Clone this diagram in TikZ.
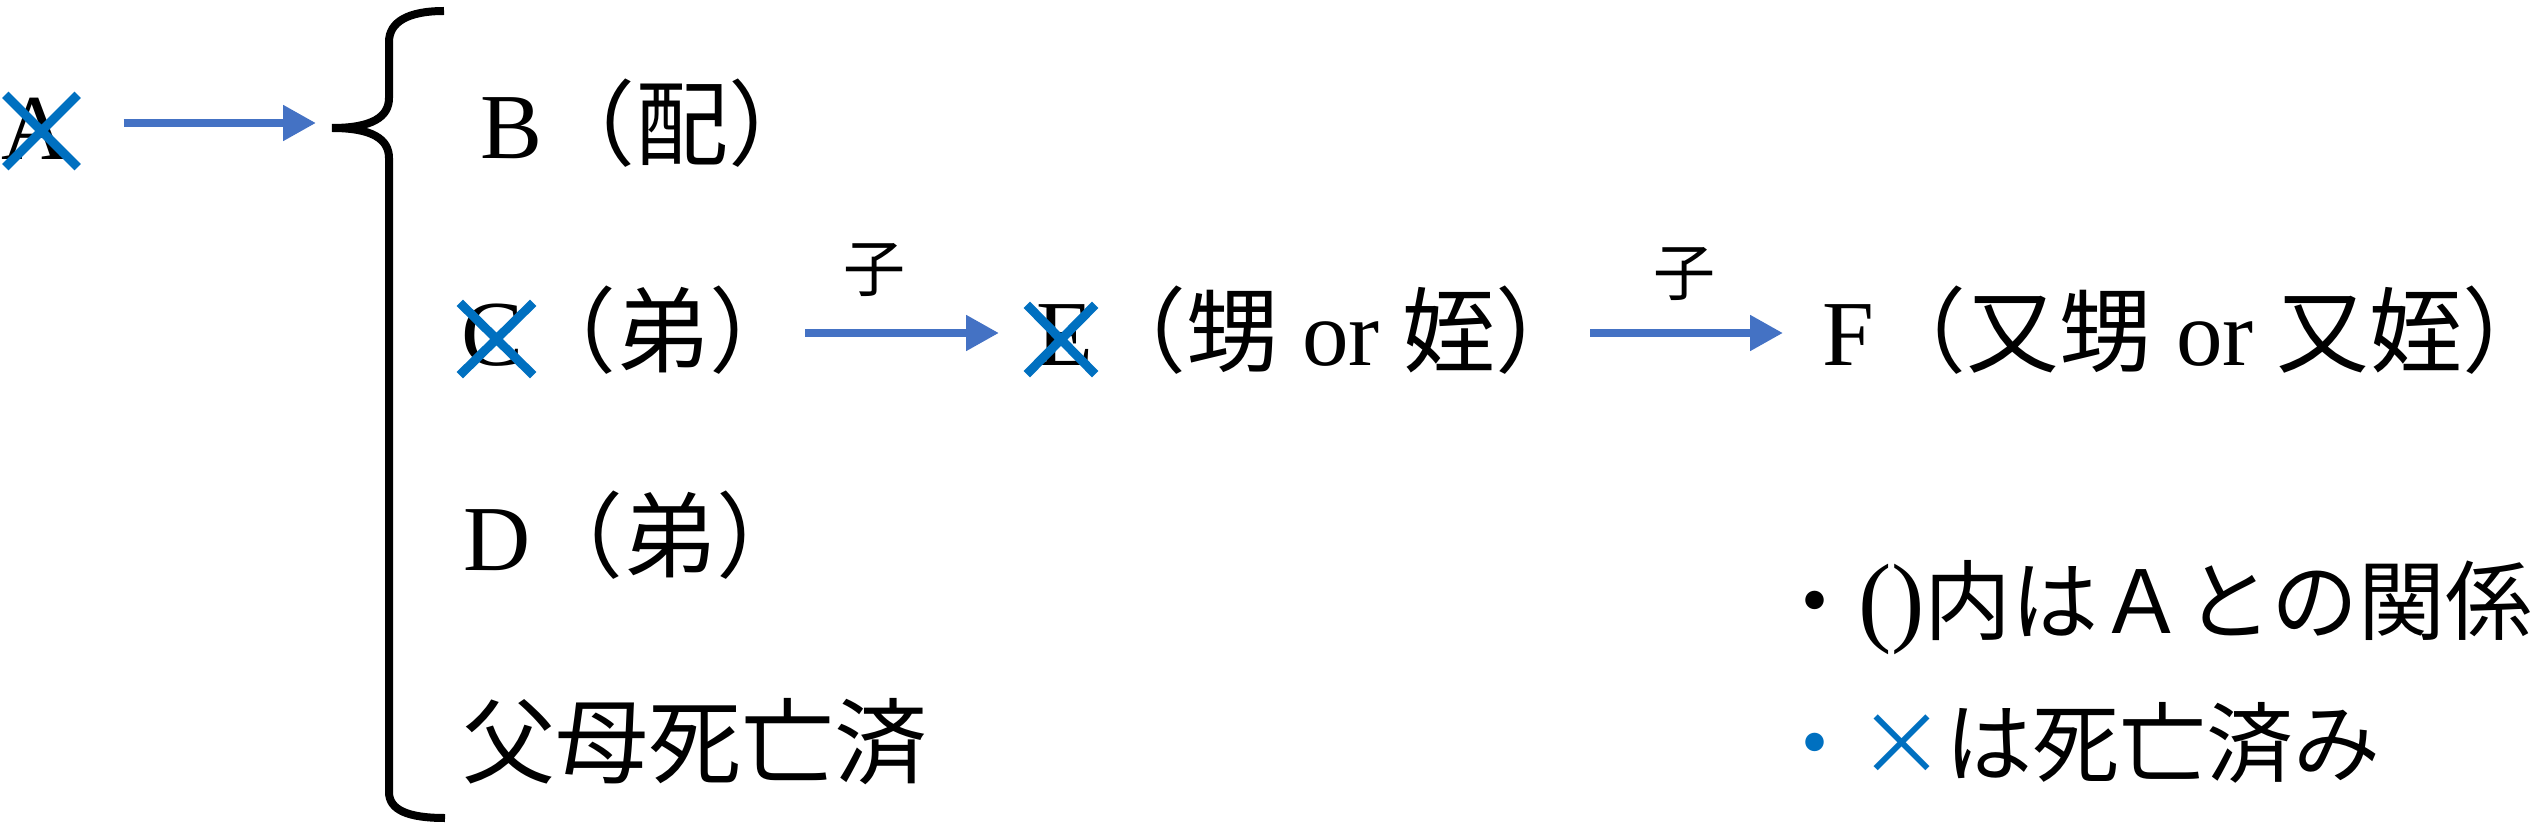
\documentclass[tikz,border=0pt]{standalone}
\usepackage{fontspec}
\setmainfont{Liberation Serif}
\newfontfamily\jp{Noto Sans CJK JP}
\usetikzlibrary{arrows.meta}
\definecolor{arrowblue}{HTML}{4472C4}
\definecolor{deadblue}{HTML}{0070C0}
\begin{document}
\begin{tikzpicture}[x=1pt,y=-1pt,
  txt/.style={inner sep=0pt, anchor=base west, font=\fontsize{93pt}{110pt}\selectfont},
  lbl/.style={inner sep=0pt, font=\jp\fontsize{62pt}{70pt}\selectfont},
  leg/.style={inner sep=0pt, anchor=base west, font=\fontsize{87pt}{100pt}\selectfont},
  arr/.style={draw=arrowblue, line width=8pt, -{Triangle[length=33pt,width=34pt]}},
  xcross/.style={minimum width=72pt, minimum height=72pt, inner sep=0pt},
  xline/.style={draw=deadblue, line width=9pt},
  bracestroke/.style={draw=black, line width=8pt}]
\useasboundingbox (0,0) rectangle (2541,834);
% left person
\node[txt] (A) at (1,160) {A};
\node[xcross] (xA) at (41.5,131) {};
\draw[xline] (xA.north west) -- (xA.south east) (xA.north east) -- (xA.south west);
% brace
\coordinate (tip) at (332,123);
\draw[bracestroke] (444,11) .. controls (408,11) and (389,22) .. (389,42) -- (389,98)
  .. controls (389,117) and (372,128) .. (332,128)
  .. controls (372,128) and (389,139) .. (389,158) -- (389,792)
  .. controls (389,810) and (408,818) .. (445,818);
\draw[arr, shorten <=55pt, shorten >=16pt] (A.east |- tip) -- (tip);
% heirs
\node[txt] (B) at (480,159) {B{\jp （配）}};
\node[txt] (C) at (461,366) {C{\jp （弟）}};
\node[xcross, minimum width=73pt] (xC) at (496.5,339) {};
\draw[xline] (xC.north west) -- (xC.south east) (xC.north east) -- (xC.south west);
\node[txt] (D) at (463,570) {D{\jp （弟）}};
\node[txt] (P) at (462,776) {\jp 父母死亡済};
\node[txt] (E) at (1036,366) {E{\jp （甥} or {\jp 姪）}};
\node[xcross, minimum width=68pt, minimum height=69pt] (xE) at (1061,339.5) {};
\draw[xline] (xE.north west) -- (xE.south east) (xE.north east) -- (xE.south west);
\node[txt] (F) at (1822,366) {F{\jp （又甥} or {\jp 又姪\makebox[0.4em][l]{）}}};
\draw[arr, shorten <=3pt, shorten >=37pt] ([yshift=33pt]C.base east) -- ([yshift=33pt]E.base west)
  node[lbl, pos=0.31, yshift=63pt] (k1) {子};
\draw[arr, shorten <=1pt, shorten >=39pt] ([yshift=33pt]E.base east) -- ([yshift=33pt]F.base west)
  node[lbl, pos=0.41, yshift=59pt] (k2) {子};
% legend
\node[leg] (L1) at (1771,633) {{\jp ・}{\fontsize{100pt}{100pt}\selectfont ()}\jp 内はＡとの関係};
\node[leg] (L2) at (1771,775) {{\jp\color{deadblue}・×}\jp は死亡済み};
\end{tikzpicture}
\end{document}
